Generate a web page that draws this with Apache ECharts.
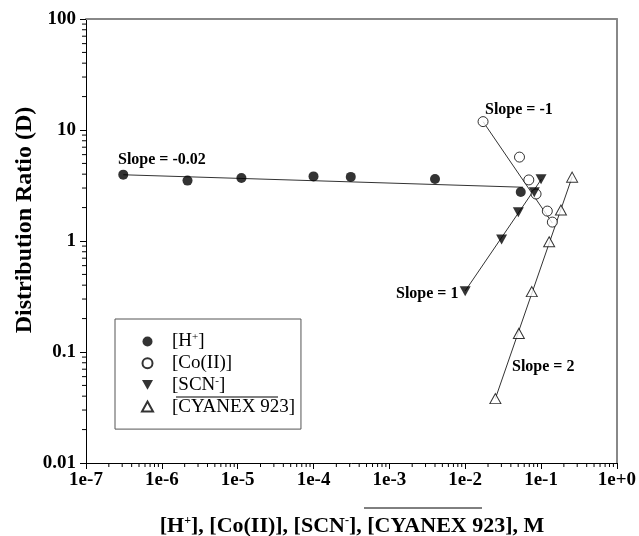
<!DOCTYPE html>
<html>
<head>
<meta charset="utf-8">
<script src="https://cdn.jsdelivr.net/npm/echarts@6/dist/echarts.min.js"></script>
<style>
html, body { margin: 0; padding: 0; background: #fff; }
#chart { width: 639px; height: 536px; }
</style>
</head>
<body>
<div id="chart"></div>
<script>
// concentrations (M) and distribution ratios
var hConc = [3.1e-7, 2.18e-6, 1.12e-5, 1.0e-4, 3.1e-4, 4.0e-3, 0.054];
var hD = [3.96, 3.5, 3.7, 3.82, 3.78, 3.62, 2.76];
var coConc = [0.0172, 0.052, 0.069, 0.086, 0.121, 0.141];
var coD = [11.9, 5.7, 3.55, 2.65, 1.86, 1.48];
var scnConc = [0.01, 0.0302, 0.0502, 0.0815, 0.1];
var scnD = [0.353, 1.03, 1.82, 2.75, 3.6];
var cyConc = [0.025, 0.051, 0.0755, 0.128, 0.183, 0.257];
var cyD = [0.038, 0.147, 0.35, 0.985, 1.9, 3.76];

// fitted lines (end points)
var hFitX = [3.1e-7, 0.058], hFitY = [3.95, 3.05];
var coFitX = [0.0172, 0.141], coFitY = [11.9, 1.45];
var scnFitX = [0.01, 0.101], scnFitY = [0.355, 3.6];
var cyFitX = [0.025, 0.258], cyFitY = [0.038, 3.8];

var xTickLabels = ['1e-7', '1e-6', '1e-5', '1e-4', '1e-3', '1e-2', '1e-1', '1e+0'];
var seriesNames = ['H', 'Co', 'SCN', 'CY'];
var legendLabels = ['[H{sup|+}]', '[Co(II)]', '[SCN{sup|-}]', '[CYANEX 923]'];
var slopeTexts = ['Slope = -0.02', 'Slope = -1', 'Slope = 1', 'Slope = 2'];

var FONT = '"Liberation Serif", "Times New Roman", serif';

function zip(xs, ys) {
  return xs.map(function (x, i) { return [x, ys[i]]; });
}

// log minor ticks 2..9 per decade
var minorTicks = [];
for (var k = -7; k < 0; k++) {
  for (var m = 2; m <= 9; m++) minorTicks.push([m * Math.pow(10, k), 0.01, 0]);
}
for (var j = -2; j < 2; j++) {
  for (var n = 2; n <= 9; n++) minorTicks.push([1e-7, n * Math.pow(10, j), 1]);
}

function fitLine(xs, ys) {
  return {
    type: 'line',
    data: zip(xs, ys),
    showSymbol: false,
    silent: true,
    z: 1,
    lineStyle: { color: '#333', width: 1 }
  };
}

var myChart = echarts.init(document.getElementById('chart'));
var option = {
  animation: false,
  backgroundColor: '#fff',
  grid: { left: 86, right: 21, top: 19, bottom: 73 },
  xAxis: [{
    type: 'log',
    logBase: 10,
    min: 1e-7,
    max: 1,
    splitNumber: 7,
    axisLine: { lineStyle: { color: '#000', width: 1 } },
    axisTick: { inside: false, length: 6, lineStyle: { color: '#000' } },
    splitLine: { show: false },
    axisLabel: {
      margin: 8,
      color: '#000',
      fontFamily: FONT,
      fontWeight: 'bold',
      fontSize: 19,
      formatter: function (v) {
        return xTickLabels[Math.round(Math.log10(v)) + 7];
      }
    }
  }, {
    type: 'value',
    position: 'top',
    axisLine: { show: true, onZero: false, lineStyle: { color: '#888', width: 2 } },
    axisTick: { show: false },
    axisLabel: { show: false },
    splitLine: { show: false }
  }],
  yAxis: [{
    type: 'log',
    logBase: 10,
    min: 0.01,
    max: 100,
    splitNumber: 4,
    axisLine: { show: true, lineStyle: { color: '#000', width: 1 } },
    axisTick: { show: true, inside: false, length: 6, lineStyle: { color: '#000' } },
    splitLine: { show: false },
    axisLabel: {
      margin: 10,
      color: '#000',
      fontFamily: FONT,
      fontWeight: 'bold',
      fontSize: 19
    }
  }, {
    type: 'value',
    position: 'right',
    axisLine: { show: true, onZero: false, lineStyle: { color: '#888', width: 2 } },
    axisTick: { show: false },
    axisLabel: { show: false },
    splitLine: { show: false }
  }],
  legend: {
    data: seriesNames,
    orient: 'vertical',
    left: 115,
    top: 319,
    padding: [13, 6, 13, 26],
    itemGap: 2.7,
    itemWidth: 11,
    itemHeight: 10,
    borderColor: '#555',
    borderWidth: 1,
    selectedMode: false,
    formatter: function (name) {
      return legendLabels[seriesNames.indexOf(name)];
    },
    textStyle: {
      fontFamily: FONT,
      fontSize: 19,
      color: '#000',
      padding: [0, 0, 0, 14],
      lineHeight: 19,
      rich: {
        sup: { fontFamily: FONT, fontSize: 11, lineHeight: 11, verticalAlign: 'top', color: '#000' }
      }
    }
  },
  series: [
    fitLine(hFitX, hFitY),
    fitLine(coFitX, coFitY),
    fitLine(scnFitX, scnFitY),
    fitLine(cyFitX, cyFitY),
    {
      name: 'H', type: 'scatter', z: 3,
      data: zip(hConc, hD),
      symbol: 'circle', symbolSize: 10,
      itemStyle: { color: '#000' }
    },
    {
      name: 'Co', type: 'scatter', z: 3,
      data: zip(coConc, coD),
      symbol: 'circle', symbolSize: 10,
      itemStyle: { color: '#fff', borderColor: '#000', borderWidth: 1 }
    },
    {
      name: 'SCN', type: 'scatter', z: 3,
      data: zip(scnConc, scnD),
      symbol: 'path://M0,0L10,0L5,9Z', symbolSize: [11, 10],
      itemStyle: { color: '#000' }
    },
    {
      name: 'CY', type: 'scatter', z: 3,
      data: zip(cyConc, cyD),
      symbol: 'triangle', symbolSize: [11, 10],
      itemStyle: { color: '#fff', borderColor: '#000', borderWidth: 1 }
    },
    {
      // minor log ticks on both axes
      type: 'custom',
      silent: true,
      clip: false,
      z: 2,
      data: minorTicks,
      renderItem: function (params, api) {
        var p = api.coord([api.value(0), api.value(1)]);
        var isY = api.value(2) === 1;
        return {
          type: 'line',
          shape: isY
            ? { x1: p[0] - 4, y1: p[1], x2: p[0], y2: p[1] }
            : { x1: p[0], y1: p[1], x2: p[0], y2: p[1] + 4 },
          style: { stroke: '#000', lineWidth: 1 }
        };
      }
    }
  ],
  graphic: [
    {
      type: 'text', x: 25, y: 220, rotation: Math.PI / 2,
      style: {
        text: 'Distribution Ratio (D)',
        font: 'bold 24px ' + FONT,
        fill: '#000', textAlign: 'center', textVerticalAlign: 'middle'
      }
    },
    {
      type: 'text', x: 352, y: 526,
      style: {
        text: '[H{sup|+}], [Co(II)], [SCN{sup|-}], [CYANEX 923], M',
        font: 'bold 22px ' + FONT,
        fill: '#000', textAlign: 'center', textVerticalAlign: 'middle',
        rich: {
          sup: { font: 'bold 12px ' + FONT, verticalAlign: 'top', lineHeight: 12 }
        }
      }
    },
    { type: 'line', shape: { x1: 364, y1: 508, x2: 482, y2: 508 }, style: { stroke: '#000', lineWidth: 1 } },
    { type: 'line', shape: { x1: 176, y1: 397, x2: 278, y2: 397 }, style: { stroke: '#000', lineWidth: 1 } },
    { type: 'text', x: 118, y: 160, style: { text: slopeTexts[0], font: 'bold 16px ' + FONT, fill: '#000', textVerticalAlign: 'middle' } },
    { type: 'text', x: 485, y: 110, style: { text: slopeTexts[1], font: 'bold 16px ' + FONT, fill: '#000', textVerticalAlign: 'middle' } },
    { type: 'text', x: 396, y: 294, style: { text: slopeTexts[2], font: 'bold 16px ' + FONT, fill: '#000', textVerticalAlign: 'middle' } },
    { type: 'text', x: 512, y: 367, style: { text: slopeTexts[3], font: 'bold 16px ' + FONT, fill: '#000', textVerticalAlign: 'middle' } }
  ]
};
myChart.setOption(option);
window.addEventListener('resize', function () {
  myChart.resize();
});
</script>
</body>
</html>
